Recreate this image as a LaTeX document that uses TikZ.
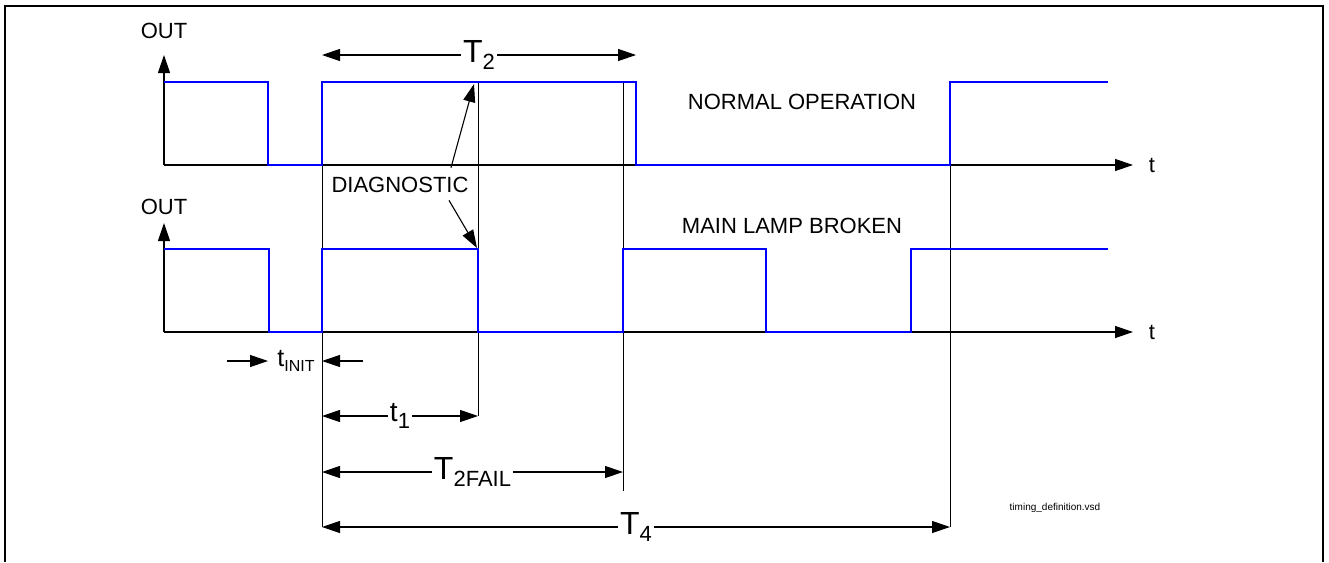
\documentclass[tikz,border=0pt]{standalone}
\usepackage{fontspec}
\setmainfont{Liberation Sans}
\usetikzlibrary{arrows.meta}

\tikzset{
  wave/.style={draw=blue,line width=2.8pt,line join=miter},
  guide/.style={line width=1pt},
  tip/.style={-{Triangle[length=18pt,width=12pt]}},
  axis/.style={line width=1.2pt,tip},
  ptr/.style={line width=1.1pt,tip},
  dim/.style={line width=1.2pt,{Triangle[length=18pt,width=12pt]}-{Triangle[length=18pt,width=12pt]}},
  lbl/.style={font=\fontsize{22}{24}\selectfont},
  dimlbl/.style={fill=white,inner sep=2pt,font=\fontsize{32}{36}\selectfont},
}
\newcommand{\dimsub}[1]{\raisebox{-7pt}{\fontsize{22}{24}\selectfont #1}}

\begin{document}
\begin{tikzpicture}[x=1pt,y=-1pt]
\useasboundingbox (0,0) rectangle (1329,562);
\draw[line width=1.2pt] (5,562) -- (5,6) -- (1323,6) -- (1323,562);

% axes
\coordinate (o1) at (164,165);
\coordinate (o2) at (164,332);
\draw[axis] (o1) -- ++(0,-110);
\draw[axis] (o2) -- ++(0,-109);
\draw[axis] (o1) -- ++(969,0) node[lbl,right=12pt] (tax1) {t};
\draw[axis] (o2) -- ++(969,0) node[lbl,right=12pt] (tax2) {t};
\node[lbl] (out1) at (164,31) {OUT};
\node[lbl] (out2) at (164,207) {OUT};

% time marks
\coordinate (m1) at (322,82);
\coordinate (m2) at (478,82);
\coordinate (m3) at (623,82);
\coordinate (m4) at (950,82);
\draw[guide] (m1) -- (m1 |- 0,527);
\draw[guide] (m2) -- (m2 |- 0,416);
\draw[guide] (m3) -- (m3 |- 0,491);
\draw[guide] (m4) -- (m4 |- 0,527);

% outputs
\draw[wave] (164,82) -| (268,165) -| (322,82) -| (636,165) -| (950,82) -- (1108,82);
\draw[wave] (164,249) -| (269,332) -| (322,249) -| (478,332) -| (623,249)
  -| (766,332) -| (911,249) -- (1108,249);

\node[lbl] (normal) at (802,102) {NORMAL OPERATION};
\node[lbl] (broken) at (792,226) {MAIN LAMP BROKEN};

% diagnostic pulse
\node[lbl] (diag) at (400,185) {DIAGNOSTIC};
\coordinate (dg1) at (474,84);
\coordinate (dg2) at (477,248);
\draw[ptr] ([xshift=-21pt,yshift=6pt]diag.north east) -- (dg1);
\draw[ptr] ([xshift=-23pt,yshift=-4pt]diag.south east) -- (dg2);

% timings
\coordinate (ti1) at (227,361);
\coordinate (ti2) at (363,361);
\node (tinit) at (296,361) {\fontsize{25}{28}\selectfont t\raisebox{-5pt}{\fontsize{16}{18}\selectfont INIT}};
\draw[ptr] (ti1) -- (268,361);
\draw[ptr] (ti2) -- (m1 |- ti2);

\draw[dim] (m1 |- 0,55) -- node[dimlbl] (t2) {T\dimsub{2}} (636,55);
\draw[dim] (m1 |- 0,416) -- node[dimlbl,font=\fontsize{28}{32}\selectfont] (t1) {t\dimsub{1}} (m2 |- 0,416);
\draw[dim] (m1 |- 0,472) -- node[dimlbl] (t2fail) {T\dimsub{2FAIL}} (m3 |- 0,472);
\draw[dim] (m1 |- 0,527) -- node[dimlbl] (t4) {T\dimsub{4}} (m4 |- 0,527);

\node[font=\fontsize{10}{12}\selectfont] (file) at (1055,508) {timing\_definition.vsd};
\end{tikzpicture}
\end{document}
